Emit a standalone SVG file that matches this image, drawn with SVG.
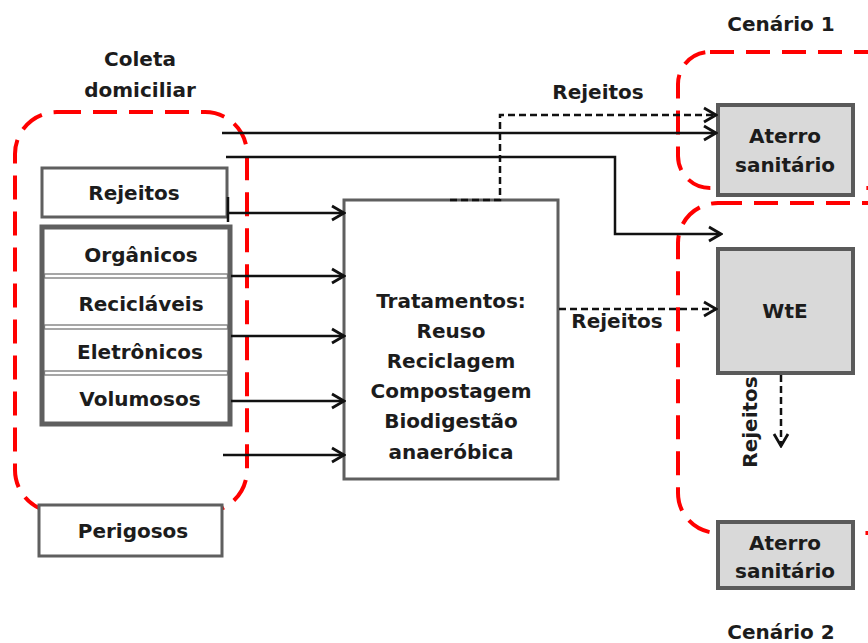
<svg xmlns="http://www.w3.org/2000/svg" width="868" height="643" viewBox="0 0 868 643">
<defs>
<marker id="ah" markerUnits="userSpaceOnUse" markerWidth="16" markerHeight="18" viewBox="0 0 16 18" refX="14" refY="9" orient="auto">
<path d="M2,2 L14,9 L2,16" fill="none" stroke="#111" stroke-width="2.8"/>
</marker>
</defs>
<style>
text{font-family:"DejaVu Sans","Liberation Sans",sans-serif;font-weight:bold;font-size:20px;fill:#1c1c1c;text-anchor:middle}
.red{fill:none;stroke:#ff0000;stroke-width:4;stroke-dasharray:24 12}
.box{fill:#fff;stroke:#5f5f5f;stroke-width:3}
.gbox{fill:#d9d9d9;stroke:#5a5a5a;stroke-width:4}
.ln{fill:none;stroke:#111;stroke-width:2.5}
.ar{marker-end:url(#ah)}
.dash{stroke-dasharray:7 4}
.div{fill:#fff;stroke:#777;stroke-width:1.3}
</style>
<rect width="868" height="643" fill="#fff"/>

<g id="coleta">
<rect class="red" x="15" y="112" width="232" height="400" rx="42"/>
<text x="140" y="66">Coleta</text>
<text x="140" y="97">domiciliar</text>
</g>
<g id="cenario1">
<rect class="red" x="678" y="52" width="230" height="136" rx="32"/>
<text x="781" y="31">Cenário 1</text>
</g>
<g id="cenario2">
<rect class="red" x="678" y="203" width="230" height="330" rx="40"/>
<text x="781" y="639">Cenário 2</text>
</g>

<g id="rejeitos">
<rect class="box" x="42" y="168" width="185" height="49"/>
<text x="134" y="200">Rejeitos</text>
</g>
<g id="categorias">
<rect x="42" y="227" width="188" height="197" fill="#fff" stroke="#5f5f5f" stroke-width="5"/>
<rect class="div" x="44.5" y="274" width="183" height="4"/>
<rect class="div" x="44.5" y="325" width="183" height="4"/>
<rect class="div" x="44.5" y="371" width="183" height="4"/>
<text x="141" y="262">Orgânicos</text>
<text x="141" y="311">Recicláveis</text>
<text x="140" y="359">Eletrônicos</text>
<text x="140" y="406">Volumosos</text>
</g>
<g id="perigosos">
<rect class="box" x="39" y="505" width="183" height="51"/>
<text x="133" y="538">Perigosos</text>
</g>
<g id="tratamentos">
<rect class="box" x="344" y="200" width="214" height="279"/>
<text x="451" y="308">Tratamentos:</text>
<text x="451" y="338">Reuso</text>
<text x="451" y="368">Reciclagem</text>
<text x="451" y="398">Compostagem</text>
<text x="451" y="428">Biodigestão</text>
<text x="451" y="459">anaeróbica</text>
</g>
<g id="aterro1">
<rect class="gbox" x="718" y="105" width="135" height="90"/>
<text x="785" y="143">Aterro</text>
<text x="785" y="172">sanitário</text>
</g>
<g id="wte">
<rect class="gbox" x="718" y="249" width="135" height="124"/>
<text x="785" y="318">WtE</text>
</g>
<g id="aterro2">
<rect class="gbox" x="718" y="522" width="135" height="66"/>
<text x="785" y="550">Aterro</text>
<text x="785" y="578">sanitário</text>
</g>

<g id="connectors">
<line class="ln" x1="228" y1="197" x2="228" y2="222" stroke-width="2"/>
<line class="ln ar" x1="228" y1="213" x2="344" y2="213"/>
<line class="ln ar" x1="231" y1="276" x2="344" y2="276"/>
<line class="ln ar" x1="231" y1="336" x2="344" y2="336"/>
<line class="ln ar" x1="231" y1="401" x2="344" y2="401"/>
<line class="ln ar" x1="223" y1="455" x2="344" y2="455"/>
<line class="ln ar" x1="222" y1="133" x2="716" y2="133"/>
<polyline class="ln ar" points="226,157 615,157 615,234 721,234"/>
<polyline class="ln ar dash" points="450,200 500,200 500,115 716,115"/>
<line class="ln ar dash" x1="559" y1="309" x2="716" y2="309"/>
<line class="ln ar dash" x1="781" y1="375" x2="781" y2="446"/>
<text x="598" y="99">Rejeitos</text>
<text x="617" y="328">Rejeitos</text>
<text transform="translate(757,422) rotate(-90)" x="0" y="0">Rejeitos</text>
</g>
</svg>
